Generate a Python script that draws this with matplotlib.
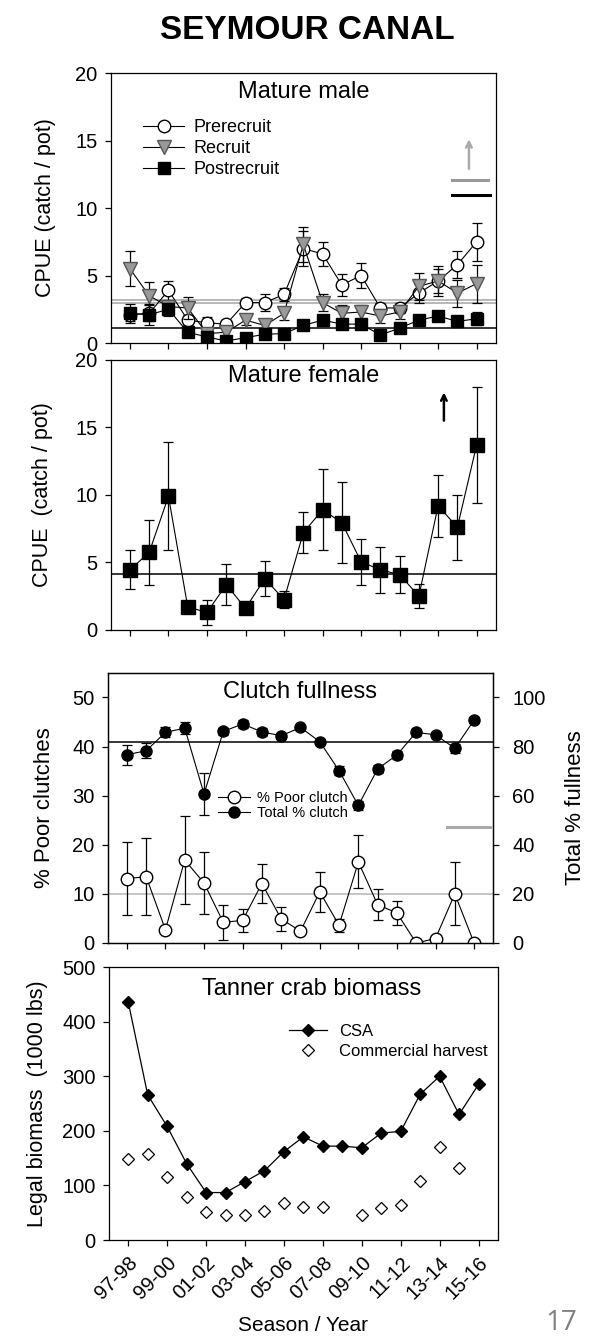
import numpy as np
import matplotlib
matplotlib.use('Agg')
import matplotlib.pyplot as plt

plt.rcParams['font.family'] = ['Liberation Sans', 'DejaVu Sans']
plt.rcParams['axes.linewidth'] = 0.9

seasons = ['97-98', '98-99', '99-00', '00-01', '01-02', '02-03', '03-04', '04-05',
           '05-06', '06-07', '07-08', '08-09', '09-10', '10-11', '11-12', '12-13',
           '13-14', '14-15', '15-16']
x = np.arange(len(seasons))

# mature male CPUE
prerecruit = [2.1, 2.2, 3.9, 1.7, 1.5, 1.4, 3.0, 3.0, 3.6, 7.0, 6.6, 4.3, 5.0, 2.6, 2.6, 3.7, 4.6, 5.8, 7.5]
prerecruit_se = [0.5, 0.6, 0.7, 0.4, 0.4, 0.3, 0.3, 0.6, 0.5, 1.3, 0.9, 0.8, 0.9, 0.4, 0.4, 0.7, 0.9, 1.0, 1.4]
recruit = [5.5, 3.5, 2.7, 2.6, 0.7, 0.8, 1.7, 1.3, 2.2, 7.3, 3.0, 2.2, 2.3, 2.0, 2.3, 4.2, 4.6, 3.7, 4.4]
recruit_se = [1.3, 1.0, 0.4, 0.8, 0.3, 0.3, 0.4, 0.3, 0.5, 1.3, 0.6, 0.6, 0.5, 0.5, 0.5, 1.0, 1.1, 1.0, 1.4]
postrecruit = [2.2, 2.1, 2.5, 0.8, 0.45, 0.15, 0.4, 0.65, 0.7, 1.3, 1.7, 1.4, 1.4, 0.6, 1.1, 1.7, 2.0, 1.6, 1.8]
postrecruit_se = [0.7, 0.8, 0.5, 0.3, 0.2, 0.1, 0.2, 0.2, 0.2, 0.2, 0.3, 0.3, 0.3, 0.2, 0.2, 0.3, 0.3, 0.2, 0.5]
male_ref = [2.95, 3.2, 1.1]   # gray, gray, black long-term averages

# mature female CPUE
female = [4.45, 5.75, 9.9, 1.7, 1.3, 3.35, 1.6, 3.8, 2.25, 7.2, 8.9, 7.95, 5.05, 4.45, 4.1, 2.5, 9.2, 7.6, 13.7]
female_se = [1.45, 2.4, 4.0, 0.3, 0.9, 1.5, 0.3, 1.3, 0.6, 1.5, 3.0, 3.0, 1.7, 1.7, 1.4, 0.9, 2.3, 2.4, 4.3]
female_ref = 4.15

# clutch fullness
poor_clutch = [13.1, 13.5, 2.7, 16.9, 12.2, 4.2, 4.6, 12.1, 4.9, 2.4, 10.4, 3.6, 16.5, 7.8, 6.1, 0.0, 0.9, 10.0, 0.0]
poor_clutch_se = [7.5, 7.8, 0.6, 8.9, 6.3, 3.6, 2.3, 3.9, 2.5, 0.3, 4.1, 1.3, 5.4, 3.2, 2.4, 0.0, 0.0, 6.4, 0.0]
total_clutch = [76.7, 78.3, 85.8, 87.5, 60.7, 86.2, 89.2, 86.0, 84.4, 87.8, 82.0, 70.2, 56.0, 70.9, 76.6, 85.8, 84.8, 79.3, 90.8]
total_clutch_se = [4.0, 3.0, 2.0, 2.5, 8.4, 1.5, 1.5, 1.5, 1.2, 1.0, 1.0, 1.8, 2.0, 1.5, 1.5, 1.5, 1.0, 1.8, 1.2]
total_ref = 82.0
poor_ref = 10.0

# biomass (1000 lbs)
csa = [436, 266, 208, 140, 87, 87, 107, 127, 162, 189, 172, 172, 169, 196, 199, 267, 300, 230, 285]
harvest = [149, 158, 116, 79, 51, 46, 46, 54, 68, 61, 61, np.nan, 46, 59, 65, 108, 171, 132, np.nan]

tick_pos = x[::2]
tick_labels = seasons[::2]

fig = plt.figure(figsize=(6, 13.4), dpi=100)

fig.text(0.5125, 0.977, 'SEYMOUR CANAL', ha='center', va='center',
         fontsize=24, fontweight='bold')


def style(ax, show_labels=False):
    ax.set_xlim(-1, 19)
    ax.set_xticks(tick_pos)
    if show_labels:
        ax.set_xticklabels(tick_labels, rotation=45, ha='right', rotation_mode='anchor', fontsize=15)
    else:
        ax.set_xticklabels([])
    ax.tick_params(direction='out', length=4.5, width=0.9, pad=5, labelsize=14.5, top=False, right=False)


eb = dict(fmt='none', ecolor='black', elinewidth=0.9, capsize=3.5, capthick=0.9)

# --- Mature male ---
ax1 = fig.add_axes([0.1845, 0.744, 0.642, 0.2015])
ax1.axhline(male_ref[0], color='#aaaaaa', lw=1.2, zorder=1)
ax1.axhline(male_ref[1], color='#aaaaaa', lw=1.2, zorder=1)
ax1.axhline(male_ref[2], color='black', lw=1.1, zorder=1)
ax1.errorbar(x, prerecruit, yerr=prerecruit_se, **eb)
ax1.plot(x, prerecruit, '-o', color='black', lw=0.8, mfc='white', mec='black', ms=9, label='Prerecruit')
ax1.errorbar(x, recruit, yerr=recruit_se, **eb)
ax1.plot(x, recruit, '-v', color='black', lw=0.8, mfc='#999999', mec='#555555', ms=10, label='Recruit')
ax1.errorbar(x, postrecruit, yerr=postrecruit_se, **eb)
ax1.plot(x, postrecruit, '-s', color='black', lw=0.8, mfc='black', mec='black', ms=9, label='Postrecruit')
ax1.plot([16.7, 18.6], [12.1, 12.1], color='#999999', lw=2.2)
ax1.plot([16.7, 18.7], [11.0, 11.0], color='black', lw=2.2)
ax1.annotate('', xy=(17.6, 15.3), xytext=(17.6, 12.7),
             arrowprops=dict(arrowstyle='->', color='#aaaaaa', lw=1.8))
ax1.set_ylim(0, 20)
ax1.set_yticks([0, 5, 10, 15, 20])
ax1.set_ylabel('CPUE (catch / pot)', fontsize=15.5, labelpad=14)
ax1.text(0.5, 0.93, 'Mature male', transform=ax1.transAxes, ha='center', va='center', fontsize=17)
ax1.legend(loc='upper left', bbox_to_anchor=(0.065, 0.855), frameon=False, fontsize=13,
           handlelength=2.3, handletextpad=0.5, labelspacing=0.22, borderaxespad=0)
style(ax1)

# --- Mature female ---
ax2 = fig.add_axes([0.1845, 0.5299, 0.642, 0.2015])
ax2.axhline(female_ref, color='black', lw=1.1, zorder=1)
ax2.errorbar(x, female, yerr=female_se, **eb)
ax2.plot(x, female, '-s', color='black', lw=0.8, mfc='black', mec='black', ms=10.5)
ax2.annotate('', xy=(16.3, 17.8), xytext=(16.3, 15.3),
             arrowprops=dict(arrowstyle='->', color='black', lw=1.8))
ax2.set_ylim(0, 20)
ax2.set_yticks([0, 5, 10, 15, 20])
ax2.set_ylabel('CPUE  (catch / pot)', fontsize=15.5, labelpad=16)
ax2.text(0.5, 0.94, 'Mature female', transform=ax2.transAxes, ha='center', va='center', fontsize=17)
style(ax2)

# --- Clutch fullness ---
ax3 = fig.add_axes([0.1793, 0.2963, 0.643, 0.2015])
ax3r = ax3.twinx()
ax3.axhline(poor_ref, color='#bbbbbb', lw=1.2, zorder=1)
ax3r.axhline(total_ref, color='black', lw=1.1, zorder=1)
ax3r.plot([16.6, 18.8], [47.4, 47.4], color='#aaaaaa', lw=2.2)
ax3.errorbar(x, poor_clutch, yerr=poor_clutch_se, **eb)
l1, = ax3.plot(x, poor_clutch, '-o', color='black', lw=0.8, mfc='white', mec='black', ms=9, label='% Poor clutch')
ax3r.errorbar(x, total_clutch, yerr=total_clutch_se, **eb)
l2, = ax3r.plot(x, total_clutch, '-o', color='black', lw=0.8, mfc='black', mec='black', ms=8, label='Total % clutch')
ax3.set_ylim(0, 55)
ax3.set_yticks([0, 10, 20, 30, 40, 50])
ax3r.set_ylim(0, 110)
ax3r.set_yticks([0, 20, 40, 60, 80, 100])
ax3.set_ylabel('% Poor clutches', fontsize=16, labelpad=12)
ax3r.set_ylabel('Total % fullness', fontsize=16, labelpad=14)
ax3.text(0.5, 0.93, 'Clutch fullness', transform=ax3.transAxes, ha='center', va='center', fontsize=17)
ax3r.legend(handles=[l1, l2], loc='upper left', bbox_to_anchor=(0.27, 0.585), frameon=False,
            fontsize=10.5, handlelength=2.2, handletextpad=0.5, labelspacing=0.1, borderaxespad=0)
style(ax3)
ax3r.set_xlim(-1, 19)
ax3r.tick_params(direction='out', length=4.5, width=0.9, pad=9, labelsize=14.5)

# --- Tanner crab biomass ---
ax4 = fig.add_axes([0.1813, 0.0746, 0.6487, 0.2037])
ax4.plot(x, csa, '-D', color='black', lw=0.9, mfc='black', mec='black', ms=6.5, label='CSA')
ax4.plot(x, harvest, 'D', color='black', mfc='white', mec='black', mew=0.9, ms=6, label='Commercial harvest')
ax4.set_ylim(0, 500)
ax4.set_yticks([0, 100, 200, 300, 400, 500])
ax4.set_ylabel('Legal biomass  (1000 lbs)', fontsize=15.5, labelpad=10)
ax4.set_xlabel('Season / Year', fontsize=15, labelpad=9)
ax4.text(0.52, 0.92, 'Tanner crab biomass', transform=ax4.transAxes, ha='center', va='center', fontsize=17)
ax4.legend(loc='upper left', bbox_to_anchor=(0.445, 0.815), frameon=False, fontsize=12,
           handlelength=2.3, handletextpad=0.7, labelspacing=0.3, borderaxespad=0)
style(ax4, show_labels=True)

fig.text(0.935, 0.002, '17', ha='center', va='bottom', fontsize=20, color='#7f7f7f',
         family=['Open Sans', 'DejaVu Sans'])

fig.savefig('out.png', dpi=100)
